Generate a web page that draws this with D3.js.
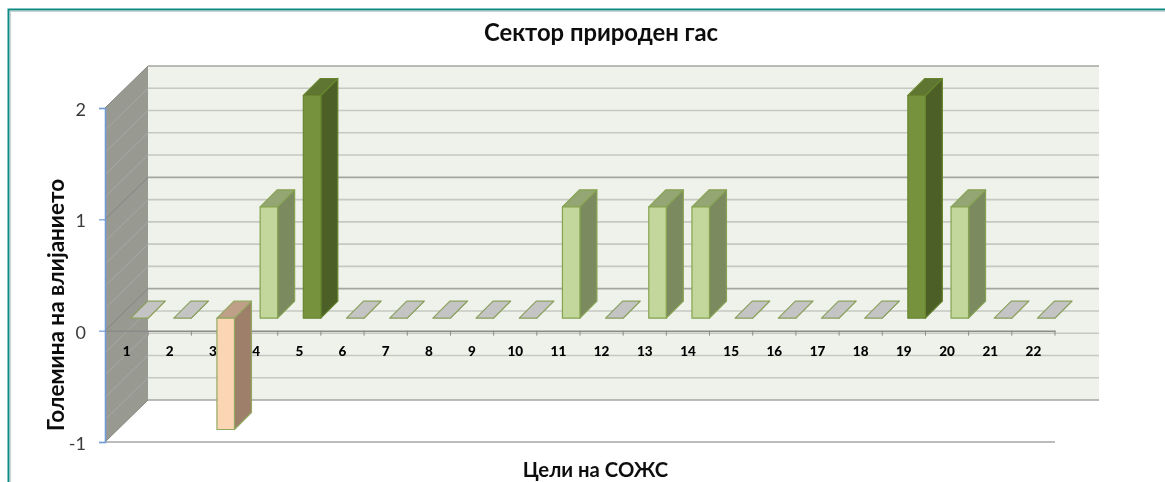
<!DOCTYPE html>
<html lang="mk">
	<head>
		<meta charset="utf-8">
		<title>Сектор природен гас</title>
		<script src="https://cdn.jsdelivr.net/npm/d3@7"></script>
		<style>
			html, body { margin: 0; padding: 0; background: #fff; }
			svg { display: block; }
			text { font-family: Lato, "Noto Sans", sans-serif; }
		</style>
	</head>
	<body>
	<script>
		// data
		var categories = d3.range(1, 23).map(String);
		var impact = [0, 0, -1, 1, 2, 0, 0, 0, 0, 0, 1, 0, 1, 1, 0, 0, 0, 0, 2, 1, 0, 0];
		var yTicks = [-1, 0, 1, 2];
		var gridValues = [-1, -0.8, -0.6, -0.4, -0.2, 0, 0.2, 0.4, 0.6, 0.8, 1, 1.2, 1.4, 1.6, 1.8, 2];
		var majorValues = [-1, 0, 1, 2];
		var impactLevels = [-1, 0, 1, 2];
		var titleText = "Сектор природен гас";
		var yTitleText = "Големина на влијанието";
		var xTitleText = "Цели на СОЖС";

		// setup
		var width = 1165, height = 482;
		var wallDx = 43, wallDy = -42;   // back wall offset
		var barDx = 13, barDy = -12.5;   // where a bar's front sits in the depth
		var barDepth = 17;
		var barWidth = 17.5;

		var svg = d3.select("body").append("svg")
			.attr("width", width)
			.attr("height", height);

		var defs = svg.append("defs");
		defs.append("filter").attr("id", "soft")
			.attr("x", "-2%").attr("y", "-2%").attr("width", "104%").attr("height", "104%")
			.append("feGaussianBlur").attr("stdDeviation", 0.5);

		var chart = svg.append("g").attr("filter", "url(#soft)");

		var x = d3.scaleBand().domain(categories).range([105, 1055]);
		var y = d3.scaleLinear().domain([-1, 2]).range([442, 108]);

		var frontFill = d3.scaleOrdinal().domain(impactLevels).range(["#fcd5b5", "#c4c4c4", "#c3d69b", "#76923c"]);
		var sideFill = d3.scaleOrdinal().domain(impactLevels).range(["#9e806a", "#c4c4c4", "#7c8a60", "#4c5f26"]);
		var topFill = d3.scaleOrdinal().domain(impactLevels).range(["#bf9f88", "#c4c4c4", "#93a673", "#5f7530"]);
		var edge = d3.scaleOrdinal().domain(impactLevels).range(["#93a860", "#8ba05c", "#86a351", "#67852f"]);

		// outer frame
		chart.append("path")
			.attr("d", "M8.5," + (height + 5) + "V9.5H" + (width + 5))
			.attr("fill", "none").attr("stroke", "#0f8a84").attr("stroke-width", 2);
		chart.append("path")
			.attr("d", "M10.5," + (height + 5) + "V11.5H" + (width + 5))
			.attr("fill", "none").attr("stroke", "#c9d3d2").attr("stroke-width", 1.2);

		// walls
		var xl = x.range()[0], xr = x.range()[1];
		var backRight = 1099;
		chart.append("rect")
			.attr("x", xl + wallDx).attr("y", y(2) + wallDy)
			.attr("width", backRight - xl - wallDx)
			.attr("height", y(-1) - y(2))
			.attr("fill", "#eff2eb");
		chart.append("path")
			.attr("d", d3.line()([
				[xl, y(2)], [xl + wallDx, y(2) + wallDy],
				[xl + wallDx, y(-1) + wallDy], [xl, y(-1)]
			]) + "Z")
			.attr("fill", "#989a92");

		// gridlines, back wall then left wall
		chart.selectAll("line.grid").data(gridValues).enter().append("line")
			.attr("class", "grid")
			.attr("x1", xl + wallDx).attr("x2", backRight)
			.attr("y1", function(d) { return y(d) + wallDy; })
			.attr("y2", function(d) { return y(d) + wallDy; })
			.attr("stroke", function(d) { return majorValues.indexOf(d) >= 0 ? "#a4a6a0" : "#c6c8c2"; })
			.attr("stroke-width", 1.6);
		chart.selectAll("line.wall").data(gridValues).enter().append("line")
			.attr("class", "wall")
			.attr("x1", xl).attr("x2", xl + wallDx)
			.attr("y1", function(d) { return y(d); })
			.attr("y2", function(d) { return y(d) + wallDy; })
			.attr("stroke", function(d) { return majorValues.indexOf(d) >= 0 ? "#83857e" : "#a8aaa3"; })
			.attr("stroke-width", 1);

		// floor lines
		chart.append("line")
			.attr("x1", xl).attr("x2", xr).attr("y1", y(-1)).attr("y2", y(-1))
			.attr("stroke", "#a6a6a6").attr("stroke-width", 1.5);

		// y axis
		var yAxis = chart.append("g")
			.attr("transform", "translate(" + xl + ",0)")
			.call(d3.axisLeft(y).tickValues(yTicks).tickFormat(String).tickSize(6).tickPadding(13));
		yAxis.select(".domain").attr("stroke", "#6f9bd3").attr("stroke-width", 1.6);
		yAxis.selectAll(".tick line").attr("stroke", "#6f9bd3").attr("stroke-width", 1.2);
		yAxis.selectAll(".tick text")
			.attr("font-size", 18).attr("fill", "#3a3a3a").attr("dy", "0.42em")
			.style("font-family", "Lato, 'Noto Sans', sans-serif");

		// x axis, ticks sit on the band edges
		var xAxis = chart.append("g")
			.attr("transform", "translate(0," + y(0) + ")")
			.call(d3.axisBottom(x).tickSize(0).tickPadding(16));
		xAxis.select(".domain").attr("stroke", "#8a8a8a").attr("stroke-width", 1.5);
		xAxis.selectAll(".tick text")
			.attr("font-size", 13.5).attr("font-weight", 900).attr("fill", "#000")
			.style("font-family", "Lato, 'Noto Sans', sans-serif");
		chart.selectAll("line.xtick").data(categories.slice(1).concat("end")).enter().append("line")
			.attr("class", "xtick")
			.attr("x1", function(d, i) { return xl + (i + 1) * x.step(); })
			.attr("x2", function(d, i) { return xl + (i + 1) * x.step(); })
			.attr("y1", y(0)).attr("y2", y(0) + 5)
			.attr("stroke", "#8a8a8a").attr("stroke-width", 1);

		// bars, zero values come out as a flat grey top
		var bars = chart.selectAll("g.bar").data(impact).enter().append("g")
			.attr("class", "bar")
			.attr("stroke", function(d) { return edge(d); })
			.attr("stroke-width", 1.2)
			.attr("stroke-linejoin", "round");

		function bx(i) { return x(categories[i]) + (x.step() - 18) / 2 + barDx; }
		function hi(d) { return y(Math.max(d, 0)) + barDy; }
		function lo(d) { return y(Math.min(d, 0)) + barDy; }

		bars.append("path").attr("fill", function(d) { return sideFill(d); })
			.attr("d", function(d, i) {
				var r = bx(i) + barWidth;
				return d3.line()([[r, hi(d)], [r + barDepth, hi(d) - barDepth], [r + barDepth, lo(d) - barDepth], [r, lo(d)]]) + "Z";
			});
		bars.append("path").attr("fill", function(d) { return topFill(d); })
			.attr("d", function(d, i) {
				var l = bx(i);
				return d3.line()([[l, hi(d)], [l + barDepth, hi(d) - barDepth], [l + barWidth + barDepth, hi(d) - barDepth], [l + barWidth, hi(d)]]) + "Z";
			});
		bars.append("rect").attr("fill", function(d) { return frontFill(d); })
			.attr("x", function(d, i) { return bx(i); })
			.attr("y", function(d) { return hi(d); })
			.attr("width", barWidth)
			.attr("height", function(d) { return lo(d) - hi(d); });

		// titles
		chart.append("text").attr("x", 601).attr("y", 41)
			.attr("text-anchor", "middle").attr("font-size", 23.8).attr("font-weight", 700).attr("fill", "#111")
			.text(titleText);
		chart.append("text").attr("transform", "translate(63.5,305) rotate(-90)")
			.attr("text-anchor", "middle").attr("font-size", 22.5).attr("font-weight", 700).attr("fill", "#111")
			.text(yTitleText);
		chart.append("text").attr("x", 595.5).attr("y", 477)
			.attr("text-anchor", "middle").attr("font-size", 20.3).attr("font-weight", 700).attr("fill", "#111")
			.text(xTitleText);
	</script>
	</body>
</html>
